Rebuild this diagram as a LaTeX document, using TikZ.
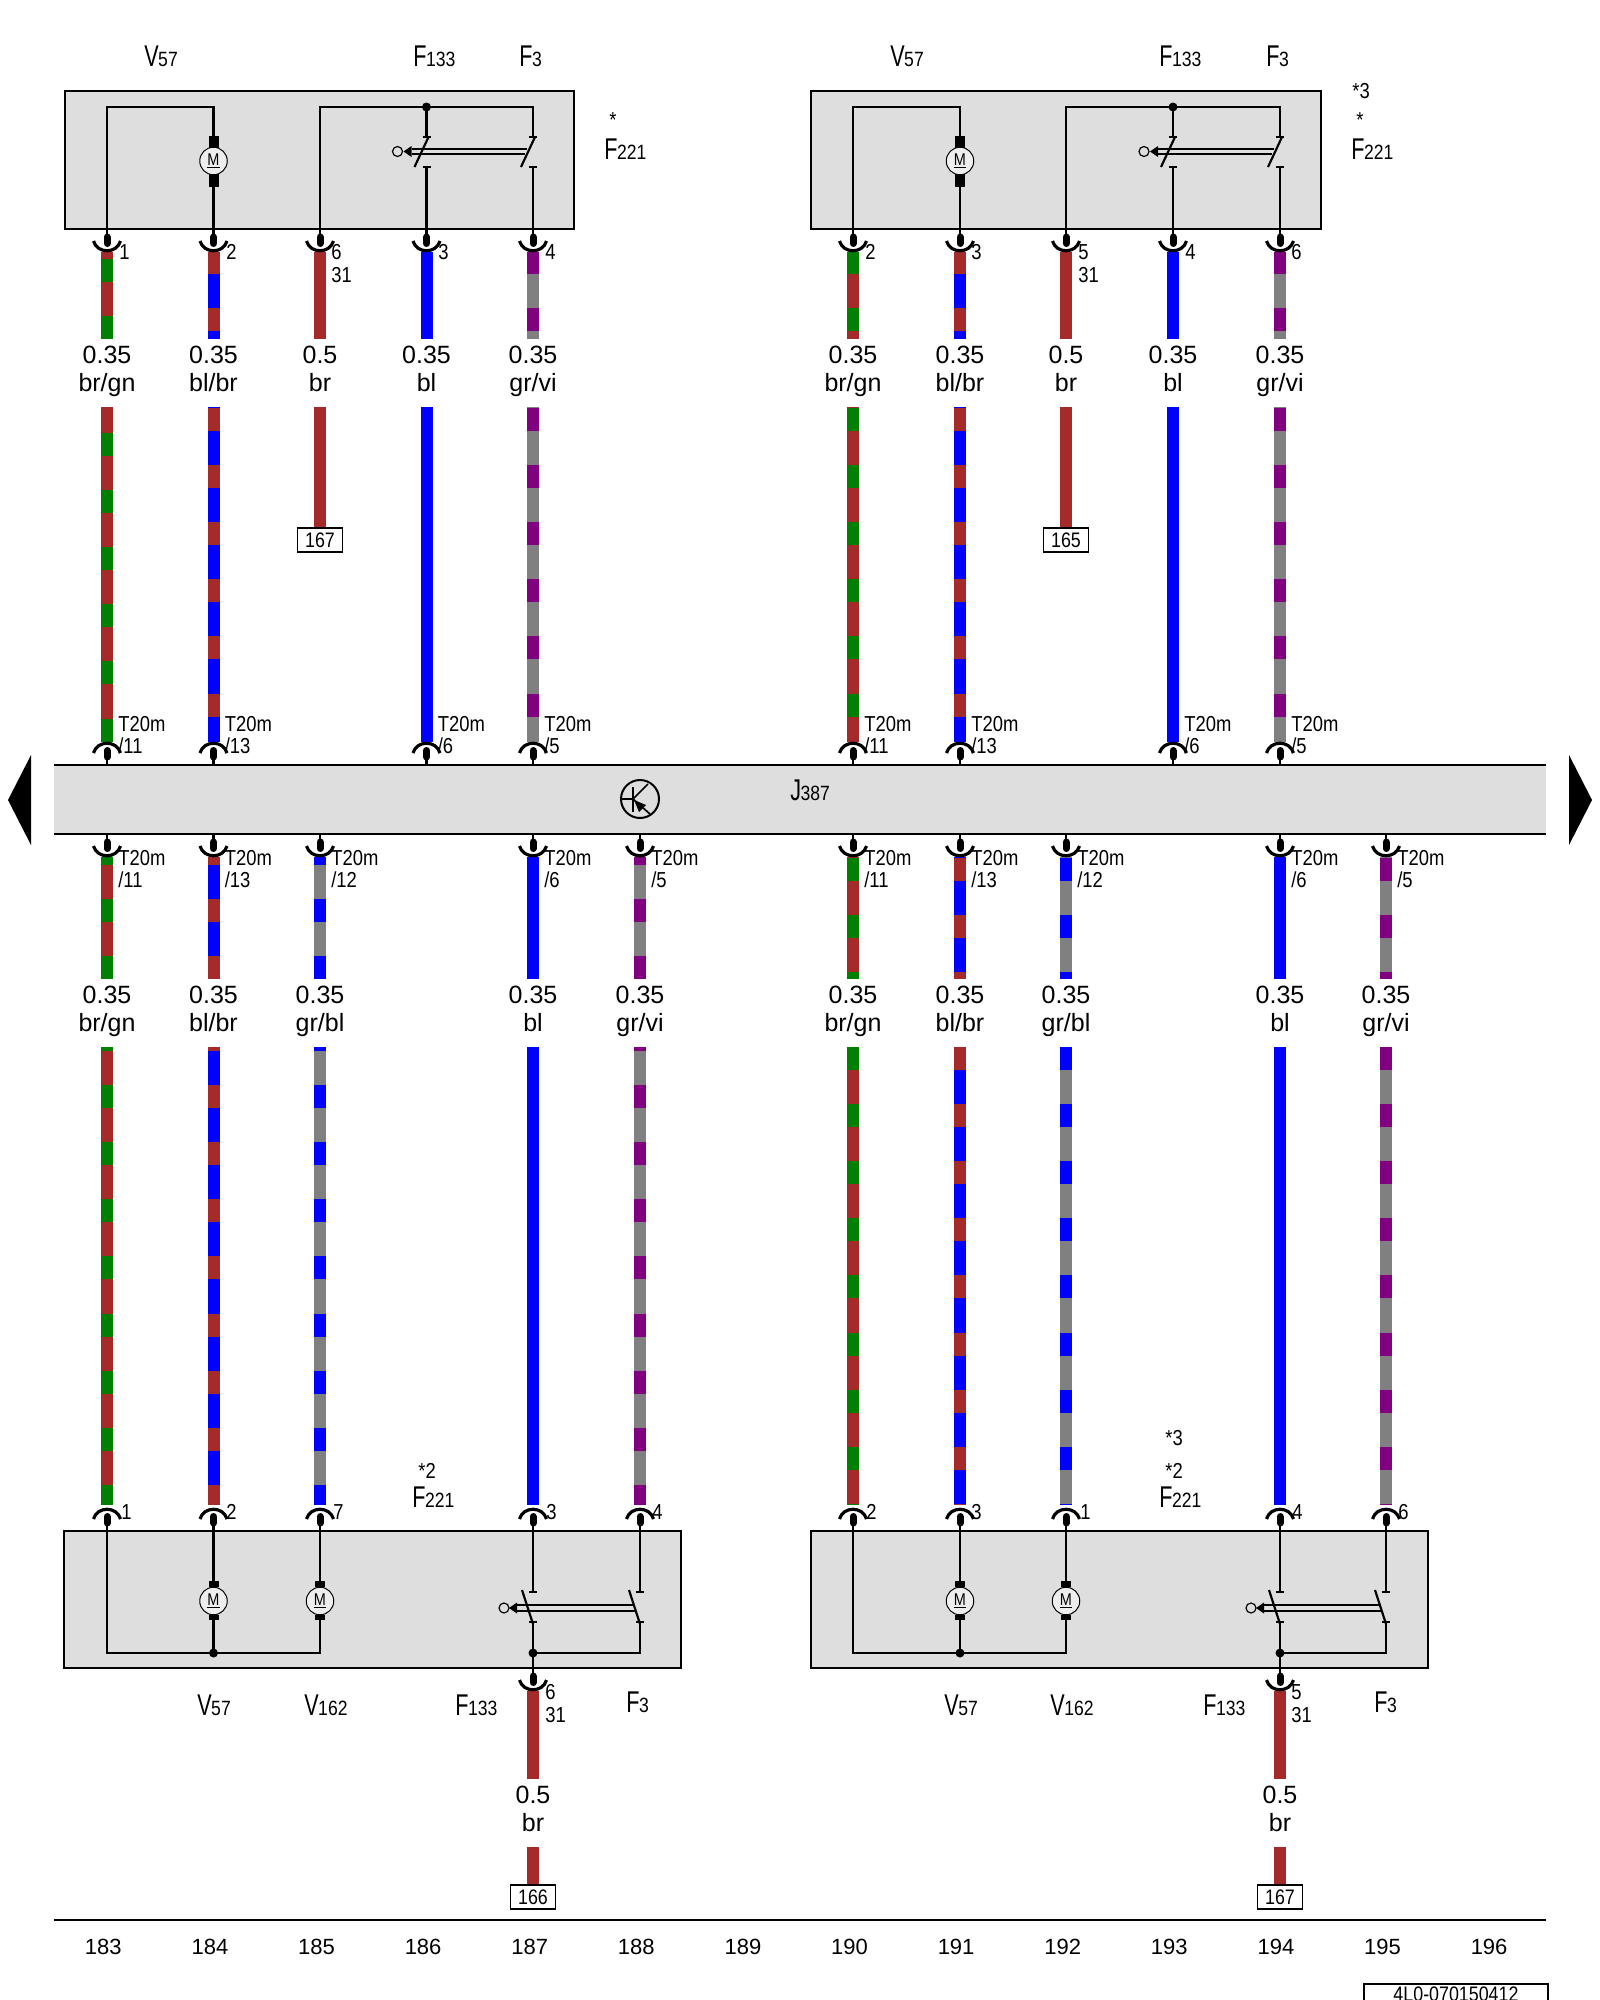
\documentclass[tikz,border=0pt]{standalone}
\usepackage{fontspec}
\setmainfont{Liberation Sans}
\newfontfamily\fnar[FakeStretch=0.85]{Liberation Sans}
\newfontfamily\fcomp[FakeStretch=0.72]{Liberation Sans}
\definecolor{wbr}{HTML}{A52A2A}
\definecolor{wgn}{HTML}{008000}
\definecolor{wbl}{HTML}{0000FF}
\definecolor{wgr}{HTML}{808080}
\definecolor{wvi}{HTML}{800080}
\definecolor{boxgray}{HTML}{DEDEDE}
\definecolor{motgray}{HTML}{EEEEEE}
\newcommand\fs[1]{\fontsize{#1}{#1}\selectfont}
\tikzset{
  ln/.style={line width=1.3pt,line join=miter},
  boxst/.style={draw=black,fill=boxgray,line width=1.6pt},
  wireline/.style={line width=7.2pt},
  gauge/.style={anchor=base,inner sep=0,font=\fs{15}},
  pinlab/.style={anchor=base west,inner sep=0,font=\fnar\fs{13}},
  complab/.style={anchor=base west,inner sep=0},
  refbox/.style={draw=black,fill=white,line width=1pt,minimum width=27pt,minimum height=14.4pt,inner sep=0,font=\fnar\fs{12.6}},
  colnum/.style={anchor=base,inner sep=0,font=\fs{13.2}}
}
% wire between two named coordinates, with optional stripes
\newcommand\wire[7]{%
  \coordinate (#1-s) at (#2,#3);
  \coordinate (#1-e) at (#2,#4);
  \pgfmathsetmacro\dph{Mod(#3-#7,57.1)*0.6}
  \draw[wireline,color=#5] (#1-s) -- (#1-e);
  \draw[wireline,color=#6,dash pattern=on 13.8pt off 20.46pt,dash phase=\dph pt] (#1-s) -- (#1-e);
}
\newcommand\plain[5]{%
  \coordinate (#1-s) at (#2,#3);
  \coordinate (#1-e) at (#2,#4);
  \draw[wireline,color=#5] (#1-s) -- (#1-e);
}
% connector: name, x, y of edge, direction (+1 down, -1 up)
\newcommand\conn[4]{%
  \coordinate (#1) at (#2,#3);
  \draw[ln] (#1) -- (#2,#3+#4*8);
  \draw[line width=4.2pt,line cap=round] (#2,#3+#4*8) -- (#2,#3+#4*14.5);
  \draw[line width=1.9pt] (#2-13.5,#3+#4*12) .. controls (#2-10,#3+#4*25) and (#2+10,#3+#4*25) .. (#2+13.5,#3+#4*12);
}
\newcommand\gaugelab[5]{%
  \node[gauge] (#1-g) at (#2,#3) {#4};
  \node[gauge] (#1-c) at (#2,#3+28) {#5};
}
\newcommand\comp[5]{% name x y letter sub
  \node[complab] (#1) at (#2,#3) {\fcomp\fs{18}#4\fs{12.4}\kern-0.3pt{\fnar #5}};
}
\newcommand\motor[6]{% name x y blockTopY0 blockTopY1 blockBot
  \fill (#2-5,#4) rectangle (#2+5,#5);
  \fill (#2-5,#3+#3-#5) rectangle (#2+5,#6);
  \node[circle,draw=black,fill=motgray,line width=.6pt,minimum size=16.5pt,inner sep=0,font=\fnar\fs{10.2}] (#1) at (#2,#3) {\underline{M}};
}
% switch pair: x1, x2
\newcommand\switchtop[2]{%
  \foreach \xx in {#1,#2} {
    \draw[ln] (\xx-4,137) -- (\xx+4,137);
    \draw[ln] (\xx-4,167) -- (\xx+4,167);
  }
  \draw[ln] (#1+2,137) -- (#1-12,167);
  \draw[ln] (#2+2,137) -- (#2-12,167);
  \draw[line width=1.1pt] (#1-15,149) -- (#2-6,149);
  \draw[line width=1.1pt] (#1-15,154) -- (#2-8,154);
  \fill (#1-23,151.5) -- (#1-15,146) -- (#1-15,157) -- cycle;
  \draw[line width=.7pt] (#1-29,151.5) circle (3pt);
}
\newcommand\switchbot[2]{%
  \foreach \xx in {#1,#2} {
    \draw[ln] (\xx-4,1592) -- (\xx+4,1592);
    \draw[ln] (\xx-4,1622) -- (\xx+4,1622);
  }
  \draw[ln] (#1-11,1590) -- (#1,1624);
  \draw[ln] (#2-11,1590) -- (#2,1624);
  \draw[line width=1.1pt] (#1-16,1605) -- (#2-7,1605);
  \draw[line width=1.1pt] (#1-16,1611) -- (#2-5,1611);
  \fill (#1-24,1608) -- (#1-16,1602.5) -- (#1-16,1613.5) -- cycle;
  \draw[line width=.7pt] (#1-29,1608) circle (3pt);
}
\newcommand\tlab[4]{% name x baseline sub
  \node[pinlab] (#1-a) at (#2+11,#3) {T20m};
  \node[pinlab] (#1-b) at (#2+11,#3+22) {#4};
}
\begin{document}
\begin{tikzpicture}[x=0.6pt,y=-0.6pt]
\clip (0,0) rectangle (1600,2000);
\fill[white] (0,0) rectangle (1600,2000);

% ---------- wires, upper left
\wire{a1u}{107}{252}{339}{wbr}{wgn}{259}
\wire{a1d}{107}{407}{742}{wbr}{wgn}{433}
\wire{a2u}{213.5}{252}{339}{wbl}{wbr}{251}
\wire{a2d}{213.5}{407}{742}{wbl}{wbr}{408}
\plain{a3u}{320}{252}{339}{wbr}
\plain{a3d}{320}{407}{530}{wbr}
\plain{a4u}{426.5}{252}{339}{wbl}
\plain{a4d}{426.5}{407}{742}{wbl}
\wire{a5u}{533}{252}{339}{wgr}{wvi}{251}
\wire{a5d}{533}{407}{742}{wgr}{wvi}{408}
% ---------- wires, upper right
\wire{b1u}{853}{252}{339}{wbr}{wgn}{251}
\wire{b1d}{853}{407}{742}{wbr}{wgn}{408}
\wire{b2u}{960}{252}{339}{wbl}{wbr}{251}
\wire{b2d}{960}{407}{742}{wbl}{wbr}{408}
\plain{b3u}{1066}{252}{339}{wbr}
\plain{b3d}{1066}{407}{530}{wbr}
\plain{b4u}{1173}{252}{339}{wbl}
\plain{b4d}{1173}{407}{742}{wbl}
\wire{b5u}{1280}{252}{339}{wgr}{wvi}{251}
\wire{b5d}{1280}{407}{742}{wgr}{wvi}{408}
% ---------- wires, lower left
\wire{c1u}{107}{857}{979}{wbr}{wgn}{899}
\wire{c1d}{107}{1047}{1505}{wbr}{wgn}{1028}
\wire{c2u}{213.5}{857}{979}{wbl}{wbr}{899}
\wire{c2d}{213.5}{1047}{1505}{wbl}{wbr}{1028}
\wire{c3u}{320}{857}{979}{wgr}{wbl}{899}
\wire{c3d}{320}{1047}{1505}{wgr}{wbl}{1028}
\plain{c4u}{533}{857}{979}{wbl}
\plain{c4d}{533}{1047}{1505}{wbl}
\wire{c5u}{640}{857}{979}{wgr}{wvi}{899}
\wire{c5d}{640}{1047}{1505}{wgr}{wvi}{1028}
% ---------- wires, lower right
\wire{d1u}{853}{857}{979}{wbr}{wgn}{858}
\wire{d1d}{853}{1047}{1505}{wbr}{wgn}{1047}
\wire{d2u}{960}{857}{979}{wbl}{wbr}{858}
\wire{d2d}{960}{1047}{1505}{wbl}{wbr}{1047}
\wire{d3u}{1066}{857}{979}{wgr}{wbl}{858}
\wire{d3d}{1066}{1047}{1505}{wgr}{wbl}{1047}
\plain{d4u}{1280}{857}{979}{wbl}
\plain{d4d}{1280}{1047}{1505}{wbl}
\wire{d5u}{1386}{857}{979}{wgr}{wvi}{858}
\wire{d5d}{1386}{1047}{1505}{wgr}{wvi}{1047}
% ---------- ground wires
\plain{e1u}{533}{1691}{1779}{wbr}
\plain{e1d}{533}{1847}{1885}{wbr}
\plain{e2u}{1280}{1691}{1779}{wbr}
\plain{e2d}{1280}{1847}{1885}{wbr}

% ---------- upper boxes
\draw[boxst] (65,91) rectangle (574,229);
\draw[boxst] (811,91) rectangle (1321,229);
% ---------- lower boxes
\draw[boxst] (64,1531) rectangle (681,1668);
\draw[boxst] (811,1531) rectangle (1428,1668);
% ---------- control unit bar
\fill[boxgray] (54,765) rectangle (1546,834);
\draw[line width=1.6pt] (54,765) -- (1546,765);
\draw[line width=1.6pt] (54,834) -- (1546,834);
\fill (8,800) -- (31,755) -- (31,845) -- cycle;
\fill (1592,800) -- (1569,755) -- (1569,845) -- cycle;

% ---------- connectors
\conn{pa1}{107}{229}{1}\conn{pa2}{213.5}{229}{1}\conn{pa3}{320}{229}{1}\conn{pa4}{426.5}{229}{1}\conn{pa5}{533}{229}{1}
\conn{pb1}{853}{229}{1}\conn{pb2}{960}{229}{1}\conn{pb3}{1066}{229}{1}\conn{pb4}{1173}{229}{1}\conn{pb5}{1280}{229}{1}
\conn{qa1}{107}{765}{-1}\conn{qa2}{213.5}{765}{-1}\conn{qa4}{426.5}{765}{-1}\conn{qa5}{533}{765}{-1}
\conn{qb1}{853}{765}{-1}\conn{qb2}{960}{765}{-1}\conn{qb4}{1173}{765}{-1}\conn{qb5}{1280}{765}{-1}
\conn{rc1}{107}{834}{1}\conn{rc2}{213.5}{834}{1}\conn{rc3}{320}{834}{1}\conn{rc4}{533}{834}{1}\conn{rc5}{640}{834}{1}
\conn{rd1}{853}{834}{1}\conn{rd2}{960}{834}{1}\conn{rd3}{1066}{834}{1}\conn{rd4}{1280}{834}{1}\conn{rd5}{1386}{834}{1}
\conn{sc1}{107}{1531}{-1}\conn{sc2}{213.5}{1531}{-1}\conn{sc3}{320}{1531}{-1}\conn{sc4}{533}{1531}{-1}\conn{sc5}{640}{1531}{-1}
\conn{sd1}{853}{1531}{-1}\conn{sd2}{960}{1531}{-1}\conn{sd3}{1066}{1531}{-1}\conn{sd4}{1280}{1531}{-1}\conn{sd5}{1386}{1531}{-1}
\conn{te1}{533}{1668}{1}\conn{te2}{1280}{1668}{1}

% ---------- upper box internals, left
\draw[ln] (pa1) -- (107,107) -- (213.5,107) -- (213.5,136);
\motor{ma}{213.5}{161}{136}{148}{187}
\draw[ln] (213.5,187) -- (pa2);
\draw[ln] (pa3) -- (320,107) -- (533,107) -- (533,137);
\draw[ln] (426.5,107) -- (426.5,137);
\fill (426.5,107) circle (2.7pt);
\draw[ln] (426.5,167) -- (pa4);
\draw[ln] (533,167) -- (pa5);
\switchtop{426.5}{533}
% ---------- upper box internals, right
\draw[ln] (pb1) -- (853,107) -- (960,107) -- (960,136);
\motor{mb}{960}{161}{136}{148}{187}
\draw[ln] (960,187) -- (pb2);
\draw[ln] (pb3) -- (1066,107) -- (1280,107) -- (1280,137);
\draw[ln] (1173,107) -- (1173,137);
\fill (1173,107) circle (2.7pt);
\draw[ln] (1173,167) -- (pb4);
\draw[ln] (1280,167) -- (pb5);
\switchtop{1173}{1280}

% ---------- lower box internals, left
\draw[ln] (sc1) -- (107,1653) -- (320,1653) -- (320,1620);
\draw[ln] (213.5,1653) -- (213.5,1620);
\draw[ln] (sc2) -- (213.5,1581);
\draw[ln] (sc3) -- (320,1581);
\motor{mc1}{213.5}{1601}{1581}{1587}{1620}
\motor{mc2}{320}{1601}{1581}{1587}{1620}
\fill (213.5,1653) circle (2.7pt);
\draw[ln] (sc4) -- (533,1592);
\draw[ln] (sc5) -- (640,1592);
\draw[ln] (640,1622) -- (640,1653) -- (533,1653);
\draw[line width=1.7pt] (533,1622) -- (te1);
\fill (533,1653) circle (2.7pt);
\switchbot{533}{640}
% ---------- lower box internals, right
\draw[ln] (sd1) -- (853,1653) -- (1066,1653) -- (1066,1620);
\draw[ln] (960,1653) -- (960,1620);
\draw[ln] (sd2) -- (960,1581);
\draw[ln] (sd3) -- (1066,1581);
\motor{md1}{960}{1601}{1581}{1587}{1620}
\motor{md2}{1066}{1601}{1581}{1587}{1620}
\fill (960,1653) circle (2.7pt);
\draw[ln] (sd4) -- (1280,1592);
\draw[ln] (sd5) -- (1386,1592);
\draw[ln] (1386,1622) -- (1386,1653) -- (1280,1653);
\draw[line width=1.7pt] (1280,1622) -- (te2);
\fill (1280,1653) circle (2.7pt);
\switchbot{1280}{1386}

% ---------- transistor symbol
\draw[line width=1.2pt] (640,799) circle (11.4pt);
\draw[line width=1pt] (622,799) -- (633,799);
\draw[line width=1.3pt] (633,787) -- (633,812);
\draw[line width=1pt] (633,799) -- (648,784);
\draw[line width=1pt] (633,799) -- (650,814);
\fill (634,800) -- (646,805) -- (639,812) -- cycle;

% ---------- reference boxes
\node[refbox] (ra) at (320,540) {167};
\node[refbox] (rb) at (1066,540) {165};
\node[refbox] (rc) at (533,1897) {166};
\node[refbox] (rd) at (1280,1897) {167};

% ---------- gauges and colours
\gaugelab{ga1}{107}{363}{0.35}{br/gn}
\gaugelab{ga2}{213.5}{363}{0.35}{bl/br}
\gaugelab{ga3}{320}{363}{0.5}{br}
\gaugelab{ga4}{426.5}{363}{0.35}{bl}
\gaugelab{ga5}{533}{363}{0.35}{gr/vi}
\gaugelab{gb1}{853}{363}{0.35}{br/gn}
\gaugelab{gb2}{960}{363}{0.35}{bl/br}
\gaugelab{gb3}{1066}{363}{0.5}{br}
\gaugelab{gb4}{1173}{363}{0.35}{bl}
\gaugelab{gb5}{1280}{363}{0.35}{gr/vi}
\gaugelab{gc1}{107}{1003}{0.35}{br/gn}
\gaugelab{gc2}{213.5}{1003}{0.35}{bl/br}
\gaugelab{gc3}{320}{1003}{0.35}{gr/bl}
\gaugelab{gc4}{533}{1003}{0.35}{bl}
\gaugelab{gc5}{640}{1003}{0.35}{gr/vi}
\gaugelab{gd1}{853}{1003}{0.35}{br/gn}
\gaugelab{gd2}{960}{1003}{0.35}{bl/br}
\gaugelab{gd3}{1066}{1003}{0.35}{gr/bl}
\gaugelab{gd4}{1280}{1003}{0.35}{bl}
\gaugelab{gd5}{1386}{1003}{0.35}{gr/vi}
\gaugelab{ge1}{533}{1803}{0.5}{br}
\gaugelab{ge2}{1280}{1803}{0.5}{br}

% ---------- pin numbers, upper boxes
\node[pinlab] (na1) at (119,259) {1};
\node[pinlab] (na2) at (226,259) {2};
\node[pinlab] (na3) at (331,259) {6};
\node[pinlab] (na3b) at (331,282) {31};
\node[pinlab] (na4) at (438,259) {3};
\node[pinlab] (na5) at (545,259) {4};
\node[pinlab] (nb1) at (865,259) {2};
\node[pinlab] (nb2) at (971,259) {3};
\node[pinlab] (nb3) at (1078,259) {5};
\node[pinlab] (nb3b) at (1078,282) {31};
\node[pinlab] (nb4) at (1185,259) {4};
\node[pinlab] (nb5) at (1291,259) {6};
% ---------- T20m labels
\tlab{ta1}{107}{731}{/11}
\tlab{ta2}{213.5}{731}{/13}
\tlab{ta4}{426.5}{731}{/6}
\tlab{ta5}{533}{731}{/5}
\tlab{tb1}{853}{731}{/11}
\tlab{tb2}{960}{731}{/13}
\tlab{tb4}{1173}{731}{/6}
\tlab{tb5}{1280}{731}{/5}
\tlab{tc1}{107}{865}{/11}
\tlab{tc2}{213.5}{865}{/13}
\tlab{tc3}{320}{865}{/12}
\tlab{tc4}{533}{865}{/6}
\tlab{tc5}{640}{865}{/5}
\tlab{td1}{853}{865}{/11}
\tlab{td2}{960}{865}{/13}
\tlab{td3}{1066}{865}{/12}
\tlab{td4}{1280}{865}{/6}
\tlab{td5}{1386}{865}{/5}
% ---------- pin numbers, lower boxes
\node[pinlab] (nc1) at (121,1519) {1};
\node[pinlab] (nc2) at (226,1519) {2};
\node[pinlab] (nc3) at (333,1519) {7};
\node[pinlab] (nc4) at (546,1519) {3};
\node[pinlab] (nc5) at (652,1519) {4};
\node[pinlab] (nd1) at (866,1519) {2};
\node[pinlab] (nd2) at (971,1519) {3};
\node[pinlab] (nd3) at (1080,1519) {1};
\node[pinlab] (nd4) at (1292,1519) {4};
\node[pinlab] (nd5) at (1398,1519) {6};
\node[pinlab] (ne1) at (545,1699) {6};
\node[pinlab] (ne1b) at (545,1722) {31};
\node[pinlab] (ne2) at (1291,1699) {5};
\node[pinlab] (ne2b) at (1291,1722) {31};

% ---------- component labels
\comp{la1}{144}{66}{V}{57}
\comp{la2}{413}{66}{F}{133}
\comp{la3}{519}{66}{F}{3}
\comp{la4}{604}{159}{F}{221}
\node[pinlab] (la5) at (609,127) {*};
\comp{lb1}{890}{66}{V}{57}
\comp{lb2}{1159}{66}{F}{133}
\comp{lb3}{1266}{66}{F}{3}
\comp{lb4}{1351}{159}{F}{221}
\node[pinlab] (lb5) at (1356,127) {*};
\node[pinlab] (lb6) at (1352,98) {*3};
\node[complab] (lj) at (790,800) {\fcomp\fs{18}J\fs{12.4}\kern-0.3pt{\fnar 387}};
\comp{lc1}{197}{1715}{V}{57}
\comp{lc2}{304}{1715}{V}{162}
\comp{lc3}{455}{1715}{F}{133}
\comp{lc4}{626}{1712}{F}{3}
\comp{lc5}{412}{1507}{F}{221}
\node[pinlab] (lc6) at (418,1478) {*2};
\comp{ld1}{944}{1715}{V}{57}
\comp{ld2}{1050}{1715}{V}{162}
\comp{ld3}{1203}{1715}{F}{133}
\comp{ld4}{1374}{1712}{F}{3}
\comp{ld5}{1159}{1507}{F}{221}
\node[pinlab] (ld6) at (1165,1478) {*2};
\node[pinlab] (ld7) at (1165,1445) {*3};

% ---------- bottom rule and column numbers
\coordinate (rule-l) at (54,1920);
\coordinate (rule-r) at (1546,1920);
\draw[line width=1.6pt] (rule-l) -- (rule-r);
\foreach \n [count=\i from 0] in {183,...,196} {
  \pgfmathsetmacro\cx{103.3+106.6*\i}
  \node[colnum] (col\n) at (\cx,1954) {\n};
}
\draw[line width=1.5pt,fill=white] (1364,2010) -- (1364,1984) -- (1548,1984) -- (1548,2010);
\node[anchor=base,inner sep=0,font=\fnar\fs{12.6}] (docid) at (1456,2001) {4L0-070150412};
\end{tikzpicture}
\end{document}
